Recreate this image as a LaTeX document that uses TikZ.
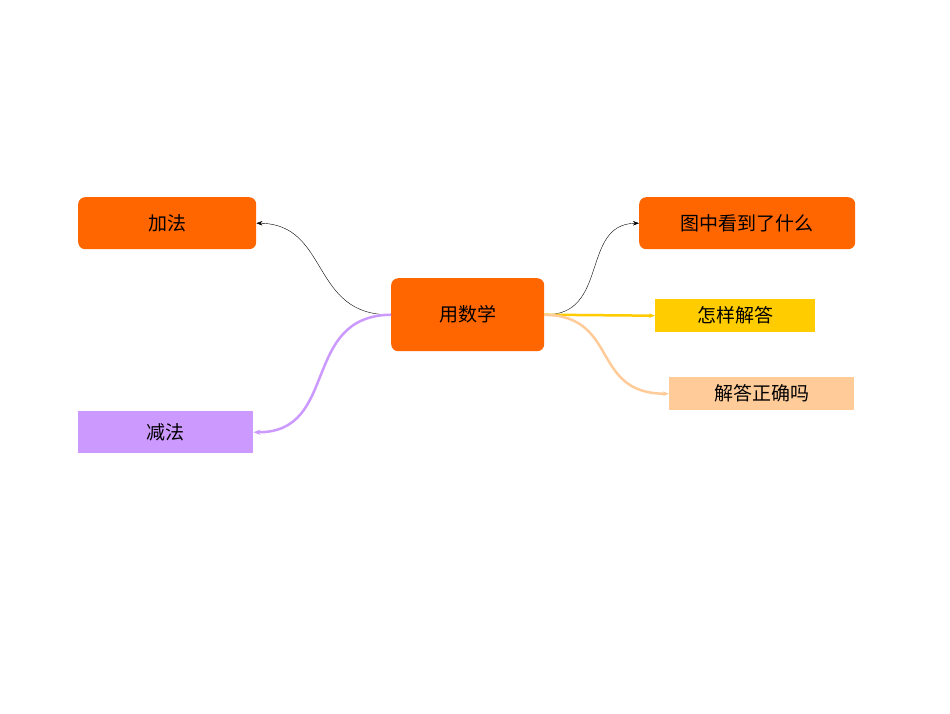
\documentclass[tikz,border=0pt]{standalone}
\usepackage{fontspec}
\setmainfont{Noto Sans CJK SC}
\usetikzlibrary{arrows.meta}
\definecolor{org}{HTML}{FF6600}
\definecolor{yel}{HTML}{FFCC00}
\definecolor{pch}{HTML}{FFCC99}
\definecolor{lav}{HTML}{CC99FF}
\tikzset{box/.style={anchor=north west,inner sep=0pt,font=\fontsize{19}{22}\selectfont,text=black},
 rbox/.style={box,fill=org,rounded corners=7pt}}
\begin{document}
\begin{tikzpicture}[x=1pt,y=-1pt]
\useasboundingbox[fill=white] (0,0) rectangle (950,713);
\node[rbox,minimum width=178pt,minimum height=52pt] (a) at (78,197) {加法};
\node[rbox,minimum width=216pt,minimum height=52pt] (b) at (639,197) {图中看到了什么};
\node[rbox,minimum width=153pt,minimum height=73pt] (c) at (391,278) {用数学};
\node[box,fill=yel,minimum width=160pt,minimum height=33pt] (d) at (655,299) {怎样解答};
\node[box,fill=pch,minimum width=185pt,minimum height=33pt] (e) at (669,377) {解答正确吗};
\node[box,fill=lav,minimum width=175pt,minimum height=42pt] (f) at (78,411) {减法};
\draw[-{Stealth[length=6pt]},thin] (c.west) .. controls (310,316) and (330,224) .. (a.east);
\draw[-{Stealth[length=7pt]},lav,line width=2.5pt] (c.west) .. controls (300,316) and (340,433) .. (f.east);
\draw[-{Stealth[length=6pt]},thin] (c.east) .. controls (610,316) and (580,224) .. (b.west);
\draw[-{Stealth[length=6pt]},yel,line width=2.5pt] (c.east) -- (d.west);
\draw[-{Stealth[length=6pt]},pch,line width=2.5pt] (c.east) .. controls (620,316) and (590,394) .. (e.west);
\end{tikzpicture}
\end{document}
